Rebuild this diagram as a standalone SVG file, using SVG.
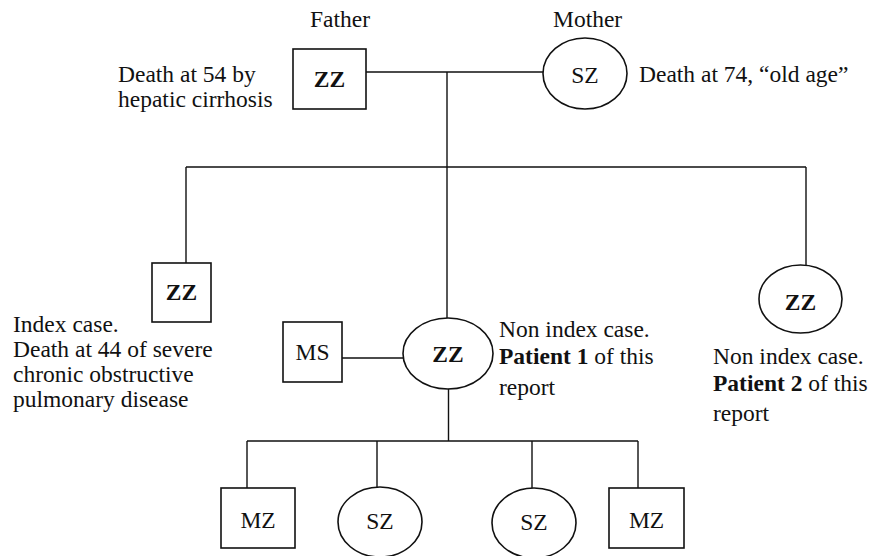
<svg xmlns="http://www.w3.org/2000/svg" width="884" height="556" viewBox="0 0 884 556">
<style>
text{font-family:"Liberation Serif","Times New Roman",serif;font-size:23.5px;fill:#111}
.b{font-weight:bold}
.c{text-anchor:middle}
.s{fill:#fff;stroke:#111;stroke-width:1.6}
.l{fill:none;stroke:#111;stroke-width:1.4}
</style>
<rect width="884" height="556" fill="#fff"/>
<g id="connectors">
<path class="l" d="M366 72H543M447 72V318M186 167H806M186 167V263M806 167V265M342 358H403M448.5 389V441M247 441H638M247 441V488M377 441V487M532 441V488M638 441V488"/>
</g>
<g id="father">
<rect class="s" x="293" y="49" width="73" height="60"/>
<text class="b c" x="329.5" y="87">ZZ</text>
<text x="310" y="27">Father</text>
<text x="118" y="82">Death at 54 by</text>
<text x="118" y="107">hepatic cirrhosis</text>
</g>
<g id="mother">
<ellipse class="s" cx="585" cy="73.5" rx="42" ry="35.5"/>
<text class="c" x="585" y="83">SZ</text>
<text x="553" y="27">Mother</text>
<text x="639" y="82">Death at 74, “old age”</text>
</g>
<g id="index-case">
<rect class="s" x="152" y="263" width="59" height="59"/>
<text class="b c" x="181.5" y="300">ZZ</text>
<text x="13" y="332">Index case.</text>
<text x="13" y="357">Death at 44 of severe</text>
<text x="13" y="382">chronic obstructive</text>
<text x="13" y="407">pulmonary disease</text>
</g>
<g id="spouse-ms">
<rect class="s" x="283" y="322" width="59" height="60"/>
<text class="c" x="312.5" y="360">MS</text>
</g>
<g id="patient1">
<ellipse class="s" cx="448" cy="353.5" rx="45" ry="35.5"/>
<text class="b c" x="448" y="362">ZZ</text>
<text x="499" y="337">Non index case.</text>
<text x="499" y="364"><tspan class="b">Patient 1</tspan> of this</text>
<text x="499" y="395">report</text>
</g>
<g id="patient2">
<ellipse class="s" cx="800.5" cy="299" rx="41.5" ry="34"/>
<text class="b c" x="800.5" y="310">ZZ</text>
<text x="713" y="364">Non index case.</text>
<text x="713" y="391"><tspan class="b">Patient 2</tspan> of this</text>
<text x="713" y="421">report</text>
</g>
<g id="child1">
<rect class="s" x="221" y="488" width="74" height="60"/>
<text class="c" x="258" y="528">MZ</text>
</g>
<g id="child2">
<ellipse class="s" cx="380" cy="522" rx="42" ry="35"/>
<text class="c" x="380" y="529">SZ</text>
</g>
<g id="child3">
<ellipse class="s" cx="534" cy="523" rx="42" ry="35"/>
<text class="c" x="534" y="530">SZ</text>
</g>
<g id="child4">
<rect class="s" x="609" y="488" width="75" height="60"/>
<text class="c" x="646.5" y="528">MZ</text>
</g>
</svg>
